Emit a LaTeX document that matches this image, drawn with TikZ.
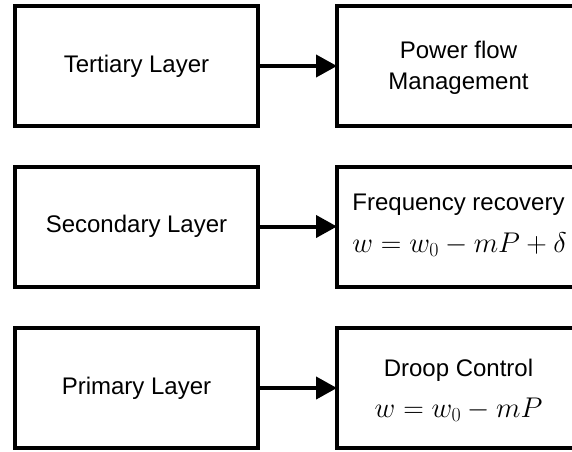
\RequirePackage{fix-cm}
\documentclass[tikz,border=0pt]{standalone}
\usepackage[no-math]{fontspec}
\setmainfont{Liberation Sans}
\usetikzlibrary{arrows.meta}
\begin{document}
\begin{tikzpicture}[x=1pt,y=-1pt,
  box/.style={draw=black,line width=4pt,minimum width=243pt,minimum height=120pt,inner sep=0pt,outer sep=0pt,font=\fontsize{24}{30}\selectfont},
  txt/.style={inner sep=0pt,anchor=base,font=\fontsize{24}{30}\selectfont},
  mth/.style={inner sep=0pt,anchor=base,font=\fontsize{28.5}{35}\selectfont},
  conn/.style={line width=4pt,-{Triangle[length=21pt,width=22pt]}}]
\useasboundingbox (0,0) rectangle (572,451);
\clip (0,0) rectangle (572,451);
% left column
\node[box] (ter) at (136.5,66) {Tertiary Layer};
\node[box] (sec) at (136.5,226.5) {Secondary Layer};
\node[box] (pri) at (136.5,388) {Primary Layer};
% right column
\node[box] (pfm) at (458.5,66) {};
\node[box] (frq) at (458.5,226.5) {};
\node[box] (drp) at (458.5,388) {};
% labels of the right column
\node[txt] (pfm1) at (458.5,58) {Power flow};
\node[txt] (pfm2) at (458.5,89) {Management};
\node[txt] (frq1) at (458.5,210) {Frequency recovery};
\node[mth] (frq2) at (459.5,252) {$w=w_0-mP+\delta$};
\node[txt] (drp1) at (458.5,376) {Droop Control};
\node[mth] (drp2) at (458.5,417) {$w=w_0-mP$};
% connectors
\draw[conn] (ter.east) -- (pfm.west);
\draw[conn] (sec.east) -- (frq.west);
\draw[conn] (pri.east) -- (drp.west);
\end{tikzpicture}
\end{document}
